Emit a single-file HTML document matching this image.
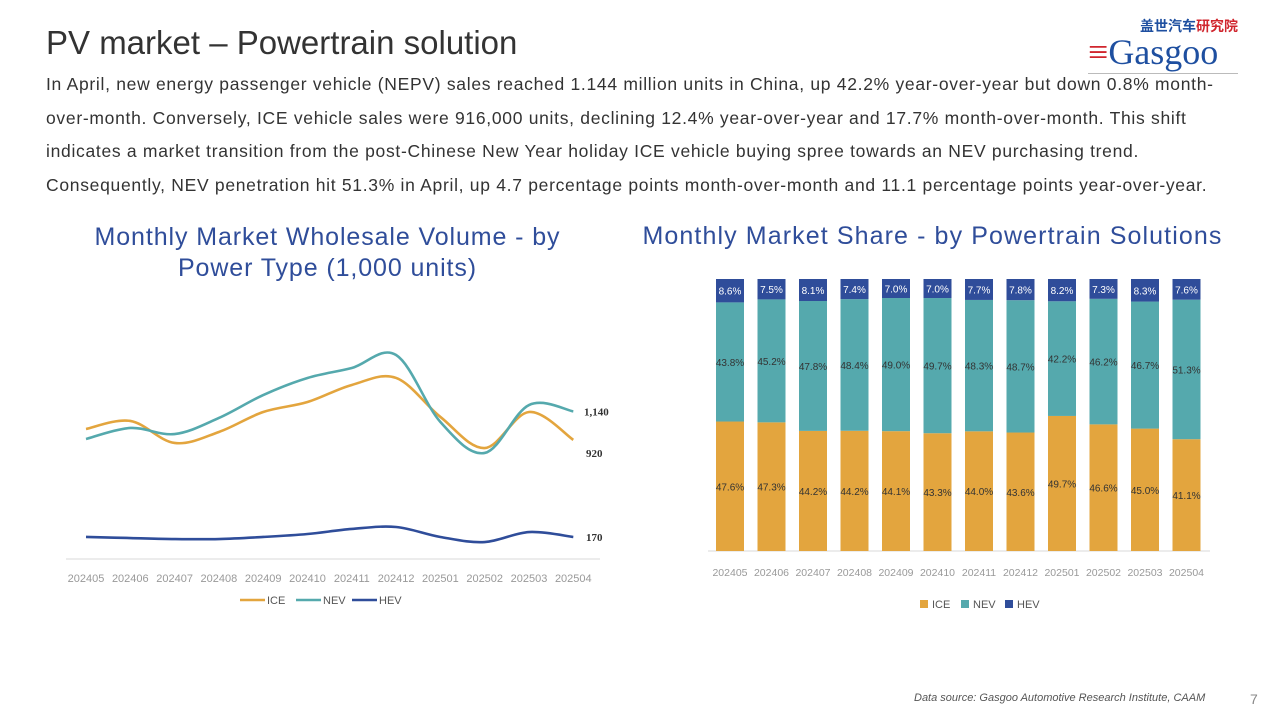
<!DOCTYPE html>
<html><head><meta charset="utf-8"><style>
body{margin:0;width:1280px;height:720px;background:#fff;font-family:"Liberation Sans","Noto Sans CJK SC",sans-serif;position:relative;overflow:hidden}
.t{position:absolute}
</style></head><body>
<div class="t" style="left:46px;top:24px;font-size:33px;color:#333">PV market – Powertrain solution</div>
<div class="t" style="left:1088px;top:16px;width:150px;height:60px">
<div style="position:absolute;left:52px;top:0;font-size:14px;font-weight:bold;color:#1e4fa0;white-space:nowrap">盖世汽车<span style="color:#d0262e">研究院</span></div>
<div style="position:absolute;left:0;top:16px;font-family:'Liberation Serif',serif;font-size:36px;color:#1e4fa0;line-height:40px;white-space:nowrap"><span style="color:#d0262e">≡</span>Gasgoo</div>
<div style="position:absolute;left:0;top:57px;width:150px;border-top:1px solid #bbb"></div>
</div>
<div class="t" style="left:46px;top:68px;width:1180px;font-size:17.5px;line-height:33.5px;color:#333;letter-spacing:0.7px">In April, new energy passenger vehicle (NEPV) sales reached 1.144 million units in China, up 42.2% year-over-year but down 0.8% month-over-month. Conversely, ICE vehicle sales were 916,000 units, declining 12.4% year-over-year and 17.7% month-over-month. This shift indicates a market transition from the post-Chinese New Year holiday ICE vehicle buying spree towards an NEV purchasing trend. Consequently, NEV penetration hit 51.3% in April, up 4.7 percentage points month-over-month and 11.1 percentage points year-over-year.</div>
<div class="t" style="left:70px;top:222px;width:515px;text-align:center;font-size:25px;line-height:31px;color:#2f4d9a;letter-spacing:0.9px">Monthly Market Wholesale Volume - by Power Type (1,000 units)</div>
<div class="t" style="left:630px;top:222px;width:605px;text-align:center;font-size:25px;color:#2f4d9a;letter-spacing:1.1px">Monthly Market Share - by Powertrain Solutions</div>
<div class="t" style="left:914px;top:692px;font-size:11px;font-style:italic;color:#555">Data source: Gasgoo Automotive Research Institute, CAAM</div>
<div class="t" style="left:1250px;top:691px;font-size:14px;color:#888">7</div>
<svg id="svg" width="1280" height="720" style="position:absolute;left:0;top:0"></svg>
<script>
const months=["202405","202406","202407","202408","202409","202410","202411","202412","202501","202502","202503","202504"];
const ice=[1004,1066,896,981,1135,1212,1344,1398,1097,857,1135,920];
const nev=[927,1012,965,1089,1266,1398,1475,1575,1058,819,1189,1140];
const hev=[170,162,154,154,170,193,232,247,170,131,208,170];
const shIce=[47.6,47.3,44.2,44.2,44.1,43.3,44.0,43.6,49.7,46.6,45.0,41.1];
const shNev=[43.8,45.2,47.8,48.4,49.0,49.7,48.3,48.7,42.2,46.2,46.7,51.3];
const shHev=[8.6,7.5,8.1,7.4,7.0,7.0,7.7,7.8,8.2,7.3,8.3,7.6];
const C={ice:"#e3a53e",nev:"#55a9ad",hev:"#2f4d9a"};
const svg=document.getElementById('svg');const NS="http://www.w3.org/2000/svg";
function mk(t,a,txt){const e=document.createElementNS(NS,t);for(const k in a)e.setAttribute(k,a[k]);if(txt!=null)e.textContent=txt;svg.appendChild(e);return e;}
const lx=i=>86+i*44.3, ly=v=>559-v*0.1295;
let e=mk('line',{x1:66,x2:600,y1:559,y2:559,stroke:"#d9d9d9"});

months.forEach((m,i)=>{e=mk('text',{x:lx(i),y:582,'font-size':11,fill:"#999",'text-anchor':'middle'},m);
});
function smooth(pts){let d=`M${pts[0][0]},${pts[0][1]}`;for(let i=0;i<pts.length-1;i++){const p0=pts[i-1]||pts[i],p1=pts[i],p2=pts[i+1],p3=pts[i+2]||p2;const t=0.17;d+=` C${p1[0]+(p2[0]-p0[0])*t},${p1[1]+(p2[1]-p0[1])*t} ${p2[0]-(p3[0]-p1[0])*t},${p2[1]-(p3[1]-p1[1])*t} ${p2[0]},${p2[1]}`;}return d;}
[["ice",ice],["nev",nev],["hev",hev]].forEach(([k,arr])=>{e=mk('path',{d:smooth(arr.map((v,i)=>[lx(i),ly(v)])),fill:"none",stroke:C[k],'stroke-width':2.6});

const last=arr.length-1;const lbl=k=="ice"?(ly(arr[last])+17):(ly(arr[last])+4);
e=mk('text',{x:k=="nev"?584:586,y:lbl,'font-size':11,'font-weight':'bold',fill:"#333",'font-family':'Liberation Serif'},arr[last].toLocaleString('en-US'));
});
[["ICE",240,C.ice],["NEV",296,C.nev],["HEV",352,C.hev]].forEach(([n,x,c])=>{e=mk('line',{x1:x,x2:x+25,y1:600,y2:600,stroke:c,'stroke-width':2.6});

e=mk('text',{x:x+27,y:604,'font-size':11,fill:"#555"},n);});
const bx=i=>716+i*41.5, bw=28, bTop=279, bBot=551;
e=mk('line',{x1:708,x2:1210,y1:551,y2:551,stroke:"#d9d9d9"});
months.forEach((m,i)=>{const tot=shIce[i]+shNev[i]+shHev[i];const H=bBot-bTop;let y=bBot;
[["ice",shIce[i]],["nev",shNev[i]],["hev",shHev[i]]].forEach(([k,v])=>{const h=v/tot*H;y-=h;
e=mk('rect',{x:bx(i),y:y,width:bw,height:h,fill:C[k]});
e=mk('text',{x:bx(i)+bw/2,y:y+h/2+4,'font-size':10,fill:k=="hev"?"#fff":"#333",'text-anchor':'middle'},v.toFixed(1)+"%");
});
e=mk('text',{x:bx(i)+bw/2,y:576,'font-size':10.5,fill:"#999",'text-anchor':'middle'},m);});
[["ICE",920,C.ice],["NEV",961,C.nev],["HEV",1005,C.hev]].forEach(([n,x,c])=>{e=mk('rect',{x:x,y:600,width:8,height:8,fill:c});

e=mk('text',{x:x+12,y:608,'font-size':11,fill:"#555"},n);});
</script>
</body></html>
